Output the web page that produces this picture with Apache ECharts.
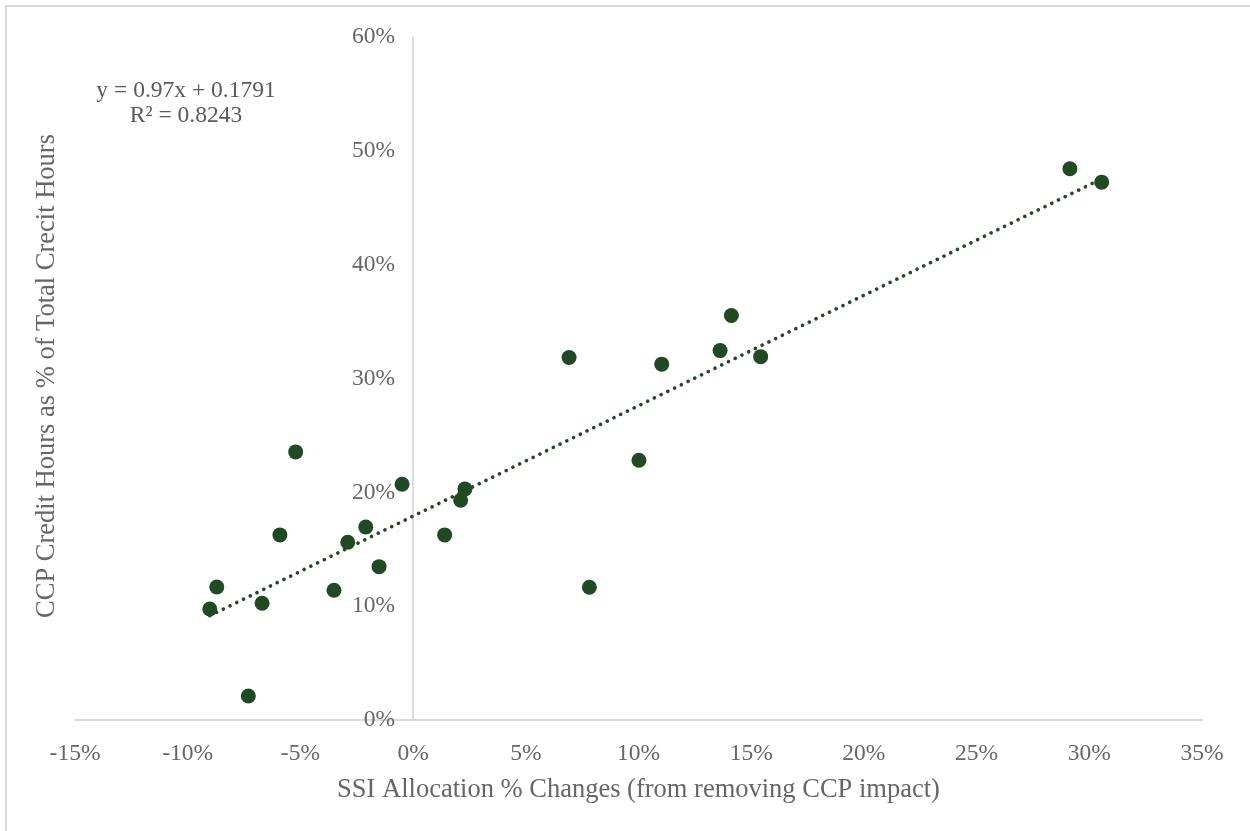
<!DOCTYPE html>
<html>
<head>
<meta charset="utf-8">
<script src="https://cdn.jsdelivr.net/npm/echarts@6/dist/echarts.min.js"></script>
<style>
html,body{margin:0;padding:0;background:#fff;}
#chart{width:1250px;height:831px;}
</style>
</head>
<body>
<div id="chart"></div>
<script>
// SSI Allocation % change (x, %) and CCP credit hours share (y, %)
const ssiChange = [-9.02, -8.71, -7.31, -6.70, -5.91, -5.21, -3.51, -2.90, -2.10, -1.51, -0.49, 1.40, 2.11, 2.30, 6.92, 7.82, 10.02, 11.03, 13.62, 14.12, 15.42, 29.14, 30.55];
const ccpShare  = [9.75, 11.69, 2.11, 10.25, 16.26, 23.55, 11.40, 15.62, 16.96, 13.47, 20.71, 16.26, 19.31, 20.30, 31.84, 11.66, 22.82, 31.26, 32.45, 35.53, 31.92, 48.42, 47.25];

// Linear trendline as printed on the chart: y = 0.97x + 0.1791
const trendSlope = 0.97;
const trendIntercept = 17.91; // in percent units
const equationLines = ['y = 0.97x + 0.1791', 'R² = 0.8243'];

const xTicks = { min: -15, max: 35, interval: 5 };
const yTicks = { min: 0, max: 60, interval: 10 };

const xTitle = 'SSI Allocation % Changes (from removing CCP impact)';
const yTitle = 'CCP Credit Hours as % of Total Crecit Hours';

const points = ssiChange.map((x, i) => [x, ccpShare[i]]);
const xMin = Math.min(...ssiChange), xMax = Math.max(...ssiChange);
const trend = [[xMin, trendSlope * xMin + trendIntercept], [xMax, trendSlope * xMax + trendIntercept]];

const FONT = '"Liberation Serif", "Times New Roman", serif';
const TXT = '#666666';
const GREEN = '#1F4A24';

const W = 1250;
const gridLeft = 75, gridRight = 48;
const gridWidth = W - gridLeft - gridRight;
// place the y axis where x = 0 (axis crosses at zero, as in the original)
const yAxisOffset = -((0 - xTicks.min) / (xTicks.max - xTicks.min)) * gridWidth;

const chart = echarts.init(document.getElementById('chart'), null, { renderer: 'canvas' });
chart.setOption({
  animation: false,
  backgroundColor: '#ffffff',
  grid: { left: gridLeft, right: gridRight, top: 37, bottom: 111, containLabel: false },
  xAxis: {
    type: 'value',
    min: xTicks.min, max: xTicks.max, interval: xTicks.interval,
    name: xTitle,
    nameLocation: 'middle',
    nameGap: 57,
    nameTextStyle: { fontFamily: FONT, fontSize: 26.5, color: TXT },
    axisLine: { show: true, lineStyle: { color: '#d0d0d0', width: 1.5 } },
    axisTick: { show: false },
    splitLine: { show: false },
    axisLabel: { formatter: '{value}%', fontFamily: FONT, fontSize: 23.5, color: TXT, margin: 22 }
  },
  yAxis: {
    type: 'value',
    position: 'left',
    offset: yAxisOffset,
    min: yTicks.min, max: yTicks.max, interval: yTicks.interval,
    axisLine: { show: true, onZero: false, lineStyle: { color: '#d0d0d0', width: 1.5 } },
    axisTick: { show: false },
    splitLine: { show: false },
    axisLabel: { formatter: '{value}%', fontFamily: FONT, fontSize: 23.5, color: TXT, margin: 18 }
  },
  series: [
    {
      type: 'line',
      data: trend,
      showSymbol: false,
      symbol: 'none',
      z: 1,
      lineStyle: { color: GREEN, width: 3.6, type: [0.1, 7.4], cap: 'round' }
    },
    {
      type: 'scatter',
      data: points,
      symbol: 'circle',
      symbolSize: 15,
      z: 3,
      itemStyle: { color: GREEN, opacity: 1 }
    }
  ],
  graphic: [
    {
      type: 'rect',
      shape: { x: 6, y: 6, width: 1300, height: 900 },
      style: { fill: 'none', stroke: '#d9d9d9', lineWidth: 2 },
      silent: true, z: -10
    },
    {
      type: 'text',
      x: 47, y: 376,
      rotation: Math.PI / 2,
      style: { text: yTitle, fontFamily: FONT, fontSize: 26.5, fill: TXT, textAlign: 'center', textVerticalAlign: 'middle' }
    },
    {
      type: 'text',
      x: 186, y: 91,
      style: { text: equationLines[0], fontFamily: FONT, fontSize: 23.5, fill: '#595959', textAlign: 'center', textVerticalAlign: 'middle' }
    },
    {
      type: 'text',
      x: 186, y: 116,
      style: { text: equationLines[1], fontFamily: FONT, fontSize: 23.5, fill: '#595959', textAlign: 'center', textVerticalAlign: 'middle' }
    }
  ]
});
</script>
</body>
</html>
